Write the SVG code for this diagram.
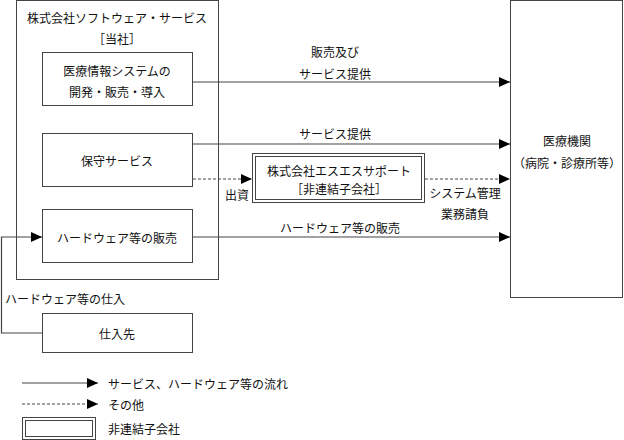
<svg xmlns="http://www.w3.org/2000/svg" width="624" height="440" viewBox="0 0 624 440">
<defs>
<marker id="ah" markerUnits="userSpaceOnUse" markerWidth="11" markerHeight="10" refX="11" refY="5" orient="auto">
<path d="M0,0 L11,5 L0,10 Z" fill="#000"/>
</marker>
<style>
text{font-family:"Noto Sans CJK JP","Noto Sans",sans-serif;font-size:12px;fill:#111;text-anchor:middle;dominant-baseline:central}
.box{fill:#fff;stroke:#444;stroke-width:1}
.ln{fill:none;stroke:#444;stroke-width:1.2}
.dot{fill:none;stroke:#444;stroke-width:1;stroke-dasharray:3,2}
.l{text-anchor:start}
</style>
</defs>
<g id="company">
<rect class="box" x="16.5" y="0.5" width="202" height="279"/>
<text x="117" y="17">株式会社ソフトウェア・サービス</text>
<text x="117" y="38">［当社］</text>
</g>
<g id="dev">
<rect class="box" x="42.5" y="52.5" width="150" height="53"/>
<text x="117" y="70">医療情報システムの</text>
<text x="117" y="91">開発・販売・導入</text>
</g>
<g id="maint">
<rect class="box" x="42.5" y="133.5" width="150" height="53"/>
<text x="117" y="160">保守サービス</text>
</g>
<g id="hw">
<rect class="box" x="42.5" y="209.5" width="150" height="53"/>
<text x="117" y="237">ハードウェア等の販売</text>
</g>
<g id="supplier">
<rect class="box" x="42.5" y="313.5" width="150" height="39"/>
<text x="117" y="333">仕入先</text>
</g>
<g id="sub">
<rect class="box" x="252.5" y="153.5" width="172" height="49"/>
<rect fill="none" stroke="#444" x="255.5" y="156.5" width="166" height="43"/>
<text x="339" y="170">株式会社エスエスサポート</text>
<text x="339" y="188">［非連結子会社］</text>
</g>
<g id="medical">
<rect class="box" x="510.5" y="0.5" width="112" height="297"/>
<text x="567" y="140">医療機関</text>
<text x="567" y="162">（病院・診療所等）</text>
</g>
<g id="connectors">
<path class="ln" d="M193,82 H510" marker-end="url(#ah)"/>
<path class="ln" d="M193,144 H510" marker-end="url(#ah)"/>
<path class="dot" d="M193,179 H252" marker-end="url(#ah)"/>
<path class="dot" d="M425,179 H510" marker-end="url(#ah)"/>
<path class="ln" d="M193,237 H510" marker-end="url(#ah)"/>
<path class="ln" d="M42,333 H1.5 V237 H42" marker-end="url(#ah)"/>
<text x="335" y="51">販売及び</text>
<text x="335" y="73">サービス提供</text>
<text x="335" y="133">サービス提供</text>
<text x="237" y="194">出資</text>
<text x="465" y="192">システム管理</text>
<text x="465" y="213">業務請負</text>
<text x="340" y="227">ハードウェア等の販売</text>
<text class="l" x="5" y="298">ハードウェア等の仕入</text>
</g>
<g id="legend">
<path class="ln" d="M22,383 H98" marker-end="url(#ah)"/>
<text class="l" x="108" y="383">サービス、ハードウェア等の流れ</text>
<path class="dot" d="M22,404 H98" marker-end="url(#ah)"/>
<text class="l" x="108" y="404">その他</text>
<rect class="box" x="22.5" y="417.5" width="73" height="22"/>
<rect fill="none" stroke="#444" x="25.5" y="420.5" width="67" height="16"/>
<text class="l" x="108" y="428">非連結子会社</text>
</g>
</svg>
